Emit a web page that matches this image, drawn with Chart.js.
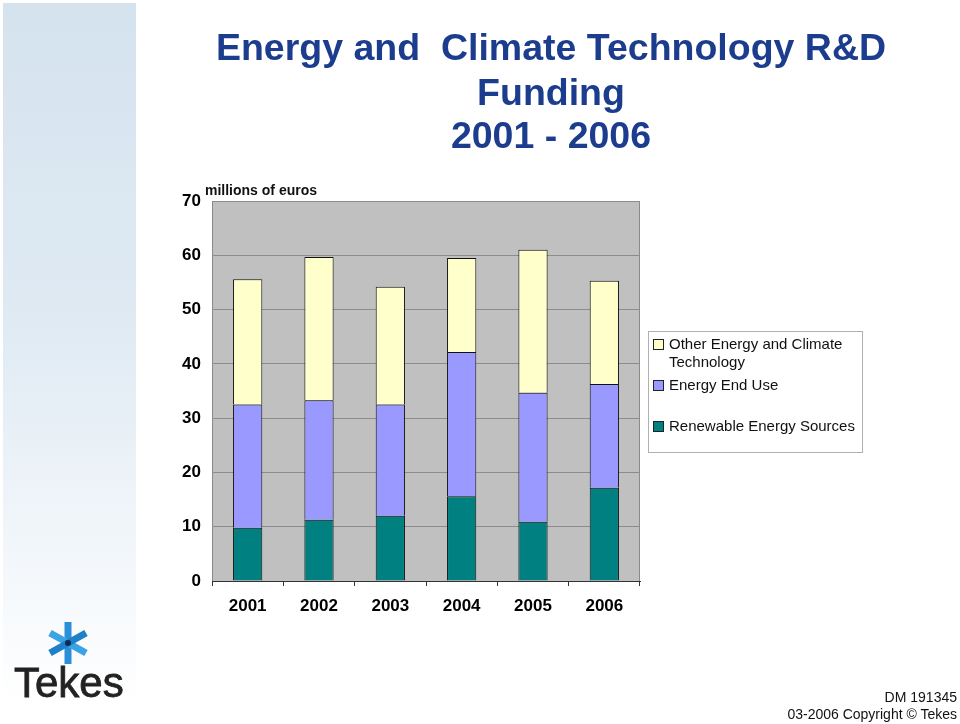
<!DOCTYPE html>
<html>
<head>
<meta charset="utf-8">
<script src="https://cdn.jsdelivr.net/npm/chart.js@4"></script>
<style>
  body { margin: 0; background: #fff; font-family: "Liberation Sans", Arial, sans-serif; }
  #page { position: relative; width: 960px; height: 724px; overflow: hidden; }
  #strip { position: absolute; left: 3px; top: 3px; width: 133px; height: 700px;
    background: linear-gradient(to bottom, #d5e3ef 0%, #dfeaf3 45%, #f6f9fc 85%, #ffffff 100%); }
  #chartBox { position: absolute; left: 0; top: 0; width: 960px; height: 724px; }
  .title { position: absolute; left: 200px; width: 702px; text-align: center; color: #1c3d8e;
    font-weight: bold; font-size: 37.5px; white-space: pre; line-height: 44px; }
  #unit { position: absolute; left: 205px; top: 182px; font-size: 14px; font-weight: bold; color: #111; }
  #legend { position: absolute; left: 648px; top: 331px; width: 213px; height: 120px;
    border: 1px solid #b0b0b0; background: #fff; }
  .item { position: absolute; left: 4px; font-size: 15px; line-height: 18px; color: #111; }
  .sw { position: absolute; left: 0; top: 4px; width: 9px; height: 9px; border: 1px solid #222; }
  .txt { position: absolute; left: 16px; top: 0; width: 195px; }
  #foot { position: absolute; right: 3px; top: 689px; text-align: right; font-size: 14px; line-height: 17px; color: #111; }
  #logo { position: absolute; left: 10px; top: 615px; }
</style>
</head>
<body>
<div id="page">
  <div id="strip"></div>
  <div id="chartBox"><canvas id="myChart" width="960" height="724"></canvas></div>
  <div class="title" style="top:25px">Energy and  Climate Technology R&amp;D</div>
  <div class="title" style="top:70px">Funding</div>
  <div class="title" style="top:113px">2001 - 2006</div>
  <div id="unit">millions of euros</div>
  <div id="legend"></div>
  <svg id="logo" width="120" height="90">
    <g transform="translate(58,28)" stroke="#2a8fd8" stroke-width="7" stroke-linecap="butt">
      <line x1="0" y1="-21" x2="0" y2="21"/>
      <line x1="-18" y1="-10" x2="18" y2="10" stroke="#3aa3e6"/>
      <line x1="-18" y1="10" x2="18" y2="-10" stroke="#1f7fc8"/>
    </g>
    <circle cx="58" cy="28" r="3" fill="#0d2a55"/>
    <text x="4" y="82" font-family="Liberation Sans, Arial" font-size="42" font-weight="500" fill="#222" stroke="#222" stroke-width="0.8">Tekes</text>
  </svg>
  <div id="foot">DM 191345<br>03-2006 Copyright © Tekes</div>
</div>
<script>
const years = ["2001", "2002", "2003", "2004", "2005", "2006"];
const renewable = [9.8, 11.3, 12.0, 15.6, 10.9, 17.2];
const endUse = [22.7, 22.0, 20.5, 26.6, 23.8, 19.1];
const otherTech = [23.1, 26.4, 21.7, 17.3, 26.3, 19.0];
const yTicks = [0, 10, 20, 30, 40, 50, 60, 70];

// gray plot background like the old excel chart
const plotBg = {
	id: "plotBg",
	beforeDraw(chart) {
		const a = chart.chartArea;
		const c = chart.ctx;
		c.save();
		c.fillStyle = "#c0c0c0";
		c.fillRect(a.left, a.top, a.right - a.left, a.bottom - a.top);
		c.strokeStyle = "#8a8a8a";
		c.lineWidth = 1;
		c.strokeRect(a.left + 0.5, a.top + 0.5, a.right - a.left - 1, a.bottom - a.top);
		c.restore();
	},
};

const ctx = document.getElementById("myChart");

let myChart = new Chart(ctx, {
	type: "bar",
	data: {
		labels: years,
		datasets: [
			{
				label: "Renewable Energy Sources",
				data: renewable,
				backgroundColor: "#008080",
				borderColor: "#111",
				borderWidth: 1,
			},
			{
				label: "Energy End Use",
				data: endUse,
				backgroundColor: "#9999ff",
				borderColor: "#111",
				borderWidth: 1,
			},
			{
				label: "Other Energy and Climate Technology",
				data: otherTech,
				backgroundColor: "#ffffcc",
				borderColor: "#111",
				borderWidth: 1,
			},
		],
	},
	options: {
		responsive: false,
		animation: false,
		layout: {
			padding: { left: 0, top: 201, right: 320, bottom: 0 },
		},
		datasets: {
			bar: { barPercentage: 0.41, categoryPercentage: 1 },
		},
		plugins: {
			legend: { display: false },
			tooltip: { enabled: false },
		},
		scales: {
			x: {
				stacked: true,
				afterFit: (s) => { s.height = 143; },
				grid: {
					drawOnChartArea: false,
					drawTicks: true,
					tickLength: 5,
					tickColor: "#333",
				},
				border: { color: "#333", width: 1 },
				ticks: {
					color: "#000",
					padding: 10,
					font: { family: "Liberation Sans", size: 17, weight: "bold" },
				},
			},
			y: {
				stacked: true,
				min: 0,
				max: 70,
				afterFit: (s) => { s.width = 212; },
				afterBuildTicks: (s) => { s.ticks = yTicks.map((v) => ({ value: v })); },
				grid: { color: "#8c8c8c", lineWidth: 1, drawTicks: false },
				border: { display: false },
				ticks: {
					color: "#000",
					padding: 11,
					font: { family: "Liberation Sans", size: 17, weight: "bold" },
				},
			},
		},
	},
	plugins: [plotBg],
});

// legend box, top item first (reverse of stack order)
const legendEl = document.getElementById("legend");
const itemTops = [3, 44, 85];
myChart.data.datasets.slice().reverse().forEach((ds, i) => {
	const item = document.createElement("div");
	item.className = "item";
	item.style.top = itemTops[i] + "px";
	item.innerHTML = '<span class="sw" style="background:' + ds.backgroundColor + '"></span><span class="txt">' + ds.label + "</span>";
	legendEl.appendChild(item);
});
</script>
</body>
</html>
